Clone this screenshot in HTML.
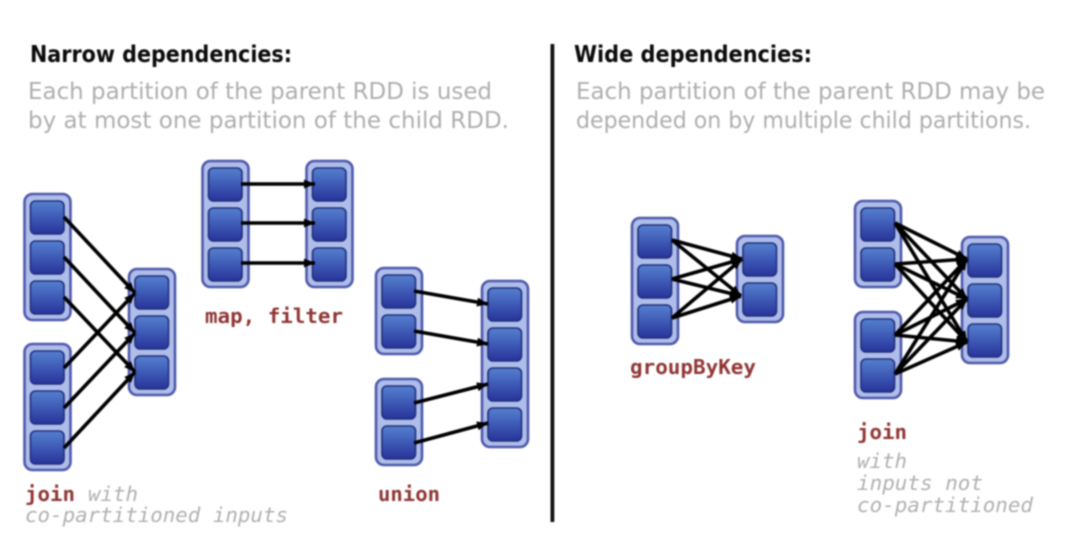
<!DOCTYPE html>
<html lang="en">
<head>
<meta charset="utf-8">
<title>Narrow and wide dependencies</title>
<style>
html,body{margin:0;padding:0;background:#fff;width:1080px;height:555px;overflow:hidden}
svg{display:block;filter:blur(.7px)}
.h{font:bold 23px "DejaVu Sans","Liberation Sans",sans-serif;fill:#0c0c0c}
.g{font:23px "DejaVu Sans","Liberation Sans",sans-serif;fill:#aeaeae}
.r{font:bold 20.5px "DejaVu Sans Mono","Liberation Mono",monospace;fill:#8f3634}
.i{font:italic 20.5px "DejaVu Sans Mono","Liberation Mono",monospace;fill:#b0b0b0}
.l line{stroke:#000;stroke-width:3.6;marker-end:url(#a)}
</style>
</head>
<body>
<svg width="1080" height="555" viewBox="0 0 1080 555" xmlns="http://www.w3.org/2000/svg">
<defs>
<linearGradient id="b" x1="0" y1="0" x2="0" y2="1">
<stop offset="0" stop-color="#5580cf"/>
<stop offset="1" stop-color="#27339a"/>
</linearGradient>
<marker id="a" markerUnits="userSpaceOnUse" markerWidth="12" markerHeight="10" refX="11" refY="5" orient="auto">
<path d="M0 .5L11 5L0 9.5z" fill="#000"/>
</marker>
<g id="cell"><rect x="7" y="0" width="33.5" height="33" rx="5" fill="url(#b)" stroke="#232f7c" stroke-width="1.6"/></g>
<g id="c2"><rect x="1" y="1" width="46" height="86" rx="8" fill="#aebde9" stroke="#4f59ab" stroke-width="2.6"/><use href="#cell" y="8"/><use href="#cell" y="48"/></g>
<g id="c3"><rect x="1" y="1" width="46" height="126" rx="8" fill="#aebde9" stroke="#4f59ab" stroke-width="2.6"/><use href="#cell" y="8"/><use href="#cell" y="48"/><use href="#cell" y="88"/></g>
<g id="c4"><rect x="1" y="1" width="46" height="166" rx="8" fill="#aebde9" stroke="#4f59ab" stroke-width="2.6"/><use href="#cell" y="8"/><use href="#cell" y="48"/><use href="#cell" y="88"/><use href="#cell" y="128"/></g>
</defs>

<rect x="550.5" y="44" width="3.8" height="478" fill="#111"/>

<text class="h" x="30" y="62" textLength="262" lengthAdjust="spacingAndGlyphs">Narrow dependencies:</text>
<text class="g" x="28" y="99" textLength="464" lengthAdjust="spacingAndGlyphs">Each partition of the parent RDD is used</text>
<text class="g" x="28" y="128" textLength="481" lengthAdjust="spacingAndGlyphs">by at most one partition of the child RDD.</text>
<text class="h" x="574" y="62" textLength="238" lengthAdjust="spacingAndGlyphs">Wide dependencies:</text>
<text class="g" x="576" y="99" textLength="469" lengthAdjust="spacingAndGlyphs">Each partition of the parent RDD may be</text>
<text class="g" x="576" y="128" textLength="455" lengthAdjust="spacingAndGlyphs">depended on by multiple child partitions.</text>

<use href="#c3" x="23.5" y="193"/>
<use href="#c3" x="23.5" y="343"/>
<use href="#c3" x="128" y="268"/>
<use href="#c3" x="201.5" y="160"/>
<use href="#c3" x="305.5" y="160"/>
<use href="#c2" x="375" y="267"/>
<use href="#c2" x="375" y="378"/>
<use href="#c4" x="481" y="280"/>
<use href="#c3" x="631" y="217"/>
<use href="#c2" x="736" y="235"/>
<use href="#c2" x="854" y="200"/>
<use href="#c2" x="854" y="311"/>
<use href="#c3" x="961" y="236"/>

<g class="l">
<line x1="64" y1="217" x2="135" y2="293"/>
<line x1="64" y1="257" x2="135" y2="333"/>
<line x1="64" y1="297" x2="135" y2="372"/>
<line x1="64" y1="368" x2="135" y2="293"/>
<line x1="64" y1="408" x2="135" y2="333"/>
<line x1="64" y1="448" x2="135" y2="372"/>

<line x1="241" y1="184" x2="315" y2="184"/>
<line x1="241" y1="223" x2="315" y2="223"/>
<line x1="241" y1="263" x2="315" y2="263"/>

<line x1="414" y1="291" x2="488" y2="304"/>
<line x1="414" y1="331" x2="488" y2="344"/>
<line x1="414" y1="403" x2="488" y2="384"/>
<line x1="414" y1="443" x2="488" y2="423"/>

<line x1="672" y1="240" x2="742" y2="259"/>
<line x1="672" y1="240" x2="741" y2="296"/>
<line x1="672" y1="279" x2="742" y2="259"/>
<line x1="672" y1="279" x2="741" y2="296"/>
<line x1="672" y1="318" x2="742" y2="259"/>
<line x1="672" y1="318" x2="741" y2="296"/>

<line x1="895" y1="223" x2="967" y2="259"/>
<line x1="895" y1="223" x2="967" y2="299"/>
<line x1="895" y1="223" x2="967" y2="342"/>
<line x1="895" y1="264" x2="967" y2="259"/>
<line x1="895" y1="264" x2="967" y2="299"/>
<line x1="895" y1="264" x2="967" y2="342"/>
<line x1="895" y1="335" x2="967" y2="259"/>
<line x1="895" y1="335" x2="967" y2="299"/>
<line x1="895" y1="335" x2="967" y2="342"/>
<line x1="895" y1="374" x2="967" y2="259"/>
<line x1="895" y1="374" x2="967" y2="299"/>
<line x1="895" y1="374" x2="967" y2="342"/>
</g>

<text class="r" x="205" y="323" textLength="138" lengthAdjust="spacingAndGlyphs">map, filter</text>
<text class="r" x="25" y="501" textLength="50" lengthAdjust="spacingAndGlyphs">join</text>
<text class="i" x="88" y="501" textLength="50" lengthAdjust="spacingAndGlyphs">with</text>
<text class="i" x="25" y="522" textLength="263" lengthAdjust="spacingAndGlyphs">co-partitioned inputs</text>
<text class="r" x="378" y="501" textLength="62" lengthAdjust="spacingAndGlyphs">union</text>
<text class="r" x="630" y="374" textLength="126" lengthAdjust="spacingAndGlyphs">groupByKey</text>
<text class="r" x="857" y="439" textLength="50" lengthAdjust="spacingAndGlyphs">join</text>
<text class="i" x="857" y="468" textLength="50" lengthAdjust="spacingAndGlyphs">with</text>
<text class="i" x="857" y="490" textLength="126" lengthAdjust="spacingAndGlyphs">inputs not</text>
<text class="i" x="857" y="512" textLength="176" lengthAdjust="spacingAndGlyphs">co-partitioned</text>
</svg>
</body>
</html>
